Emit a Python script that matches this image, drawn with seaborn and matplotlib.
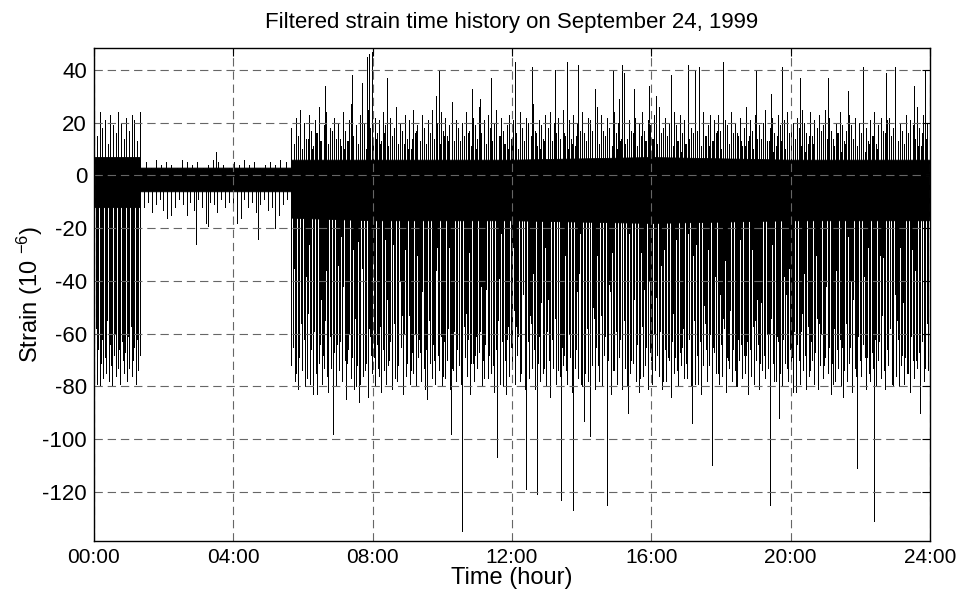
import numpy as np
import pandas as pd
import seaborn as sns
import matplotlib
matplotlib.use("Agg")
import matplotlib.pyplot as plt

# segments of the record (hours)
seg_early = (0.0, 1.32)
seg_quiet = (1.32, 5.66)
seg_active = (5.66, 24.0)

# dense core band of the trace (envelope read per hour)
core_t = [0.0, 1.32, 1.32, 5.66, 5.66, 8.0, 12.0, 16.0, 20.0, 24.0]
core_hi = [7, 7, 3, 3, 6, 6, 6, 7, 6, 6]
core_lo = [-12, -12, -6, -6, -16, -17, -17, -18, -17, -17]

# spikes, 00:00 - 01:20
neg_early = [-74, -58, -79, -66, -80, -71, -62, -77, -69, -75, -55, -78,
             -64, -72, -80, -68, -60, -76, -73, -66, -79, -63, -70, -75,
             -67, -78, -61, -73, -57, -76, -70, -65, -79, -62, -74, -68]
mid_early = [-25, -34, -19, -41, -28, -22, -37, -30, -45, -24, -33, -20, -39, -27, -31, -36]
pos_early = [22, 15, 24, 18, 21, 12, 23, 19, 16, 24, 20, 14, 22, 17, 23, 21, 13, 24]

# spikes, quiet part 01:20 - 05:40
neg_quiet = [-9, -12, -10, -14, -11, -9, -13, -16, -10, -12, -9, -11, -15, -10,
             -13, -9, -12, -18, -10, -11, -14, -9, -12, -10, -13, -11, -16, -9,
             -12, -10, -14, -11, -9, -13, -12, -10, -15, -11, -9, -12]
pos_quiet = [4, 5, 3, 6, 4, 5, 4, 3, 6, 5, 4, 5, 3, 4, 6, 5, 4, 3, 5, 4,
             6, 4, 5, 3, 4, 5, 4, 6, 5, 4]

# spikes, 05:40 - 24:00
neg_active = [
    -72, -65, -78, -58, -81, -69, -45, -74, -62, -80, -77, -52, -70, -66, -83, -59, -75, -38, -71, -64,
    -79, -68, -55, -76, -82, -61, -73, -48, -67, -80, -57, -74, -63, -78, -42, -70, -85, -66, -60, -77,
    -69, -81, -54, -72, -65, -79, -35, -76, -62, -71, -84, -58, -68, -75, -50, -80, -64, -73, -57, -82,
    -66, -74, -79, -47, -70, -63, -81, -56, -77, -68, -72, -40, -65, -83, -60, -76, -71, -53, -79, -67,
    -75, -58, -80, -69, -62, -78, -44, -73, -66, -82, -55, -71, -77, -64, -79, -36, -68, -74, -61, -80,
    -63, -77, -70, -52, -81, -67, -74, -59, -78, -46, -72, -65, -80, -57, -69, -76, -62, -83, -49, -71,
    -78, -61, -73, -67, -55, -80, -70, -64, -43, -77, -68, -75, -58, -82, -66, -72, -39, -79, -63, -74,
    -70, -83, -57, -76, -65, -72, -51, -79, -68, -61, -78, -74, -45, -81, -69, -63, -77, -56, -73, -66,
    -81, -64, -71, -78, -48, -75, -67, -80, -59, -70, -84, -62, -73, -54, -79, -66, -76, -41, -72, -68,
    -74, -79, -60, -69, -82, -56, -73, -66, -77, -37, -71, -80, -63, -75, -58, -78, -67, -72, -50, -81,
    -65, -72, -78, -53, -80, -68, -61, -76, -70, -44, -83, -66, -74, -59, -79, -69, -62, -77, -55, -73,
    -80, -67, -75, -62, -71, -47, -78, -64, -82, -69, -57, -76, -72, -65, -81, -40, -70, -79, -60, -74,
    -68, -76, -59, -81, -73, -66, -78, -52, -70, -84, -63, -75, -69, -46, -80, -67, -72, -58, -77, -64,
    -77, -62, -80, -70, -55, -74, -68, -79, -61, -83, -72, -49, -66, -78, -71, -60, -81, -65, -36, -75,
    -71, -79, -64, -76, -58, -82, -69, -73, -51, -78, -66, -74, -80, -62, -70, -43, -77, -68, -75, -63,
    -83, -66, -72, -57, -79, -70, -64, -81, -48, -74, -68, -77, -60, -73, -80, -54, -71, -67, -78, -61,
    -69, -75, -80, -62, -71, -45, -78, -66, -73, -82, -59, -76, -64, -70, -79, -52, -74, -68, -81, -57,
    -76, -63, -70, -79, -67, -54, -81, -72, -60, -77, -69, -42, -75, -65, -83, -71, -58, -78, -66, -73,
    -62, -80, -68, -74, -56, -78, -71, -65, -82, -47, -73, -79, -61, -70, -76, -64, -38, -81, -69, -75,
    -78, -67, -73, -59, -80, -70, -63, -77, -53, -74, -81, -66, -72, -58, -79, -68, -45, -76, -62, -80,
    -72, -64, -79, -69, -57, -75, -82, -61, -70, -77, -50, -73, -67, -80, -63, -78, -71, -56, -74, -77,
]
deep_active = [
    -62, -75, -56, -70, -79, -51, -66, -73, -59, -77, -64, -54, -71, -68, -80, -58, -74, -61, -69, -76,
    -57, -72, -65, -78, -53, -69, -74, -60, -67, -81, -55, -70, -63, -76, -58, -73, -66, -79, -52, -71,
    -68, -59, -77, -64, -72, -55, -80, -62, -70, -57, -75, -66, -53, -78, -61, -73, -69, -56, -74, -65,
    -73, -66, -58, -79, -63, -71, -54, -76, -68, -60, -74, -57, -81, -65, -70, -59, -77, -62, -67, -55,
    -60, -78, -69, -52, -74, -65, -71, -58, -79, -63, -56, -72, -67, -75, -54, -70, -61, -80, -64, -68,
    -76, -55, -71, -67, -60, -78, -63, -57, -73, -69, -82, -59, -66, -74, -62, -56, -72, -65, -79, -58,
    -65, -73, -60, -76, -54, -69, -77, -62, -58, -71, -66, -80, -55, -68, -75, -61, -70, -57, -73, -64,
]
mid_active = [
    -28, -35, -22, -41, -30, -19, -38, -26, -44, -33, -24, -29, -47, -21, -36, -31, -25, -40, -27, -34,
    -23, -39, -31, -20, -45, -28, -35, -25, -42, -30, -18, -37, -27, -33, -46, -22, -29, -38, -24, -32,
    -36, -26, -43, -21, -31, -39, -28, -24, -34, -48, -20, -30, -37, -25, -41, -29, -23, -35, -32, -27,
    -30, -44, -23, -37, -27, -19, -33, -40, -26, -35, -22, -45, -29, -31, -24, -38, -28, -42, -21, -34,
    -25, -32, -46, -28, -36, -22, -30, -41, -24, -34, -27, -20, -39, -31, -43, -26, -35, -23, -37, -29,
    -40, -24, -31, -27, -47, -21, -34, -29, -36, -25, -42, -30, -19, -38, -26, -33, -44, -22, -32, -28,
    -33, -27, -38, -23, -30, -45, -25, -35, -20, -41, -29, -36, -24, -31, -48, -26, -37, -22, -34, -30,
    -21, -37, -29, -43, -25, -32, -39, -27, -46, -23, -34, -28, -40, -19, -35, -30, -24, -42, -26, -36,
    -34, -22, -40, -30, -26, -37, -20, -44, -31, -28, -35, -23, -38, -27, -45, -25, -32, -29, -41, -24,
    -27, -42, -24, -33, -39, -21, -36, -28, -31, -47, -25, -30, -22, -43, -34, -26, -40, -29, -35, -23,
    -38, -29, -35, -26, -22, -41, -31, -19, -37, -27, -44, -24, -33, -30, -36, -21, -46, -28, -25, -39,
    -24, -36, -31, -45, -28, -33, -23, -40, -26, -35, -29, -42, -20, -38, -27, -32, -37, -25, -43, -30,
    -31, -25, -41, -29, -34, -20, -37, -27, -48, -32, -23, -39, -28, -36, -22, -44, -30, -26, -35, -33,
]
pos_active = [
    18, 12, 22, 15, 25, 10, 20, 14, 23, 17, 11, 21, 16, 26, 13, 19, 24, 12, 18, 15,
    22, 14, 20, 11, 24, 17, 13, 21, 27, 15, 19, 12, 23, 16, 20, 10, 25, 18, 14, 22,
    16, 21, 13, 24, 19, 11, 22, 15, 18, 26, 12, 20, 17, 23, 14, 21, 10, 25, 16, 19,
    13, 23, 18, 12, 21, 16, 25, 14, 20, 11, 24, 17, 22, 15, 19, 28, 13, 21, 18, 12,
    20, 15, 24, 17, 11, 22, 19, 14, 26, 16, 21, 12, 23, 18, 13, 20, 25, 15, 22, 17,
    12, 19, 23, 14, 21, 16, 10, 24, 18, 13, 22, 20, 15, 27, 17, 11, 21, 19, 14, 23,
    18, 24, 13, 20, 16, 22, 12, 25, 15, 19, 21, 14, 23, 11, 20, 17, 24, 16, 13, 22,
    21, 14, 19, 26, 12, 23, 17, 15, 22, 18, 11, 24, 16, 20, 13, 25, 19, 14, 21, 17,
    15, 22, 11, 20, 24, 17, 13, 21, 19, 14, 23, 16, 26, 12, 18, 22, 15, 20, 10, 24,
    19, 13, 23, 16, 21, 12, 25, 18, 14, 22, 17, 20, 11, 24, 15, 19, 23, 13, 21, 16,
    23, 17, 14, 21, 19, 12, 24, 16, 20, 15, 22, 11, 18, 26, 13, 21, 17, 23, 14, 19,
    14, 20, 25, 13, 18, 22, 16, 11, 23, 19, 15, 21, 24, 12, 17, 20, 14, 22, 18, 25,
    20, 16, 12, 24, 15, 21, 18, 23, 13, 19, 25, 14, 22, 17, 11, 20, 16, 24, 19, 13,
    17, 23, 19, 14, 22, 11, 20, 16, 25, 18, 13, 21, 15, 24, 12, 19, 22, 17, 14, 21,
    22, 15, 18, 24, 13, 20, 17, 12, 23, 16, 21, 19, 14, 26, 18, 11, 23, 15, 20, 17,
]
pos_mid_active = [
    12, 9, 15, 11, 14, 10, 16, 13, 9, 12, 17, 11, 14, 10, 13, 15, 9, 12, 16, 11,
    10, 14, 12, 16, 9, 13, 11, 15, 12, 10, 14, 17, 9, 13, 11, 16, 10, 12, 15, 13,
    15, 11, 13, 9, 16, 12, 10, 14, 11, 17, 13, 9, 15, 12, 10, 14, 16, 11, 13, 9,
    11, 16, 10, 13, 15, 9, 12, 14, 16, 10, 12, 15, 11, 13, 9, 17, 12, 14, 10, 15,
    13, 10, 14, 12, 9, 16, 11, 15, 13, 9, 14, 12, 16, 10, 15, 11, 13, 9, 12, 14,
    16, 12, 9, 15, 11, 13, 17, 10, 14, 12, 9, 16, 13, 11, 15, 10, 12, 14, 9, 13,
    9, 15, 13, 10, 16, 12, 14, 11, 9, 15, 12, 10, 17, 13, 11, 14, 16, 9, 12, 15,
    14, 11, 16, 9, 12, 15, 10, 13, 16, 11, 14, 9, 12, 15, 10, 13, 11, 16, 14, 12,
]

# isolated large spikes (hour, strain)
peak_hours = [3.5, 6.63, 7.4, 7.69, 7.83, 7.9, 7.99, 8.4, 9.81, 9.9, 10.84, 11.08,
              11.39, 12.09, 12.58, 13.24, 13.57, 13.9, 14.38, 14.89, 15.07, 15.17,
              15.23, 15.51, 15.94, 16.14, 16.57, 17.05, 17.26, 17.38, 18.07, 19.0,
              19.43, 19.74, 20.27, 21.07, 21.66, 22.07, 22.74, 23.0, 23.55, 23.86]
peak_vals = [9, 34, 38, 35, 45, 46, 47, 37, 30, 40, 33, 29,
             37, 43, 41, 40, 43, 42, 33, 40, 29, 42,
             39, 33, 34, 30, 38, 42, 40, 41, 43, 40,
             31, 41, 37, 37, 32, 41, 39, 41, 34, 40]
dip_hours = [2.2, 2.93, 3.27, 4.1, 4.72, 5.2, 6.39, 6.85, 7.6, 9.55, 10.24, 10.57,
             11.57, 12.4, 12.72, 13.41, 13.74, 14.08, 14.25, 14.73, 15.33, 17.17,
             17.73, 19.41, 19.67, 21.5, 21.9, 22.39, 23.71]
dip_vals = [-15, -26, -19, -18, -24, -20, -83, -98, -86, -85, -98, -135,
            -107, -119, -121, -123, -127, -93, -99, -125, -90, -94,
            -110, -125, -92, -84, -111, -131, -90]

x_ticks = [0, 4, 8, 12, 16, 20, 24]
x_labels = ["00:00", "04:00", "08:00", "12:00", "16:00", "20:00", "24:00"]
y_ticks = [-120, -100, -80, -60, -40, -20, 0, 20, 40]

# long-form table: every spike is a unit going from 0 to its value
hours, vals = [], []
for (a, b), lst in [(seg_early, neg_early), (seg_early, mid_early), (seg_early, pos_early),
                    (seg_quiet, neg_quiet), (seg_quiet, pos_quiet),
                    (seg_active, neg_active), (seg_active, deep_active),
                    (seg_active, mid_active),
                    (seg_active, pos_active), (seg_active, pos_mid_active)]:
    n = len(lst)
    hours.extend(np.linspace(a + 0.01, b - 0.01, n))
    vals.extend(lst)
hours.extend(peak_hours + dip_hours)
vals.extend(peak_vals + dip_vals)

hours = np.asarray(hours)
vals = np.asarray(vals, dtype=float)
spikes = pd.DataFrame({
    "hour": np.repeat(hours, 2),
    "strain": np.column_stack([np.zeros_like(vals), vals]).ravel(),
    "spike": np.repeat(np.arange(len(vals)), 2),
})

sns.set_style("white")
plt.rcParams["font.family"] = ["Liberation Sans", "DejaVu Sans"]
plt.rcParams["mathtext.default"] = "regular"
plt.rcParams["axes.unicode_minus"] = False
plt.rcParams["lines.scale_dashes"] = False
plt.rcParams["text.color"] = "black"
plt.rcParams["axes.labelcolor"] = "black"

fig = plt.figure(figsize=(9.66, 5.99), dpi=100)
ax = fig.add_axes([0.0973, 0.0973, 0.8654, 0.8231])

ax.fill_between(core_t, core_lo, core_hi, color="black", lw=0.6, zorder=2)
sns.lineplot(data=spikes, x="hour", y="strain", units="spike", estimator=None,
             sort=False, color="black", lw=0.7, antialiased=False, ax=ax, zorder=2)

ax.set_xlim(0, 24)
ax.set_ylim(-138.6, 48.5)
ax.set_xticks(x_ticks)
ax.set_xticklabels(x_labels)
ax.set_yticks(y_ticks)
ax.grid(True, color="#666666", lw=0.8, ls=(0, (6, 3.5)))
ax.set_axisbelow(False)
for s in ax.spines.values():
    s.set_color("black")
    s.set_linewidth(1.0)
    s.set_zorder(4)
ax.tick_params(direction="in", length=6, width=0.8, top=True, right=True,
               colors="black", pad=5)
ax.tick_params(axis="x", labelsize=15)
ax.tick_params(axis="y", labelsize=16)

ax.set_title("Filtered strain time history on September 24, 1999", fontsize=16, pad=14)
ax.set_xlabel("Time (hour)", fontsize=17, labelpad=0)
ax.set_ylabel("Strain (10 $^{-6}$)", fontsize=17, labelpad=-2)

fig.savefig("out.png", dpi=100)
